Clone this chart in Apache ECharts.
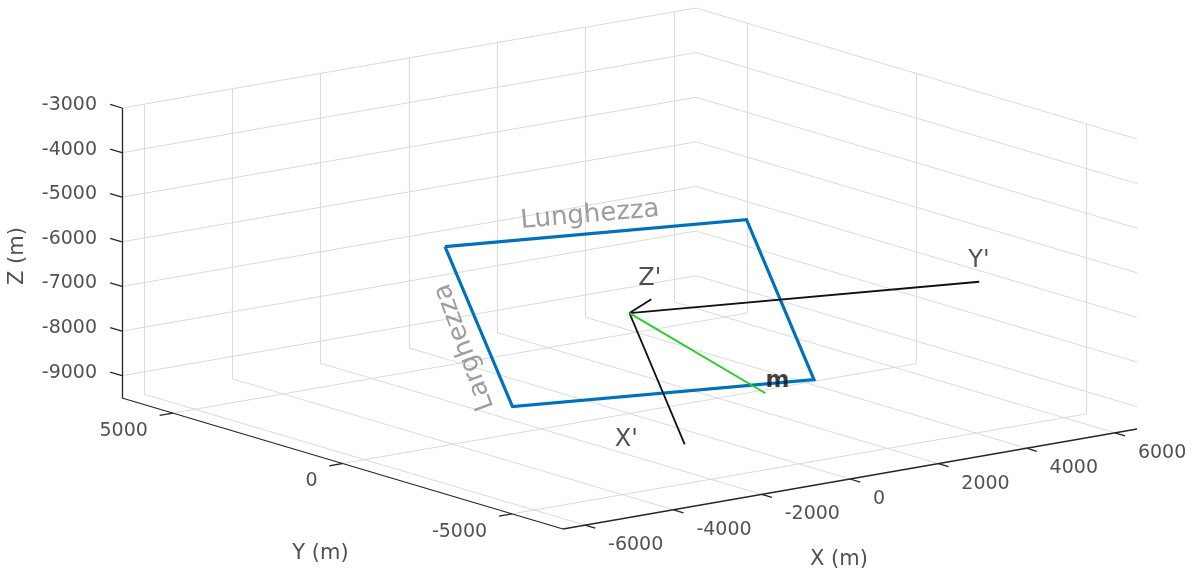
<!DOCTYPE html>
<html><head><meta charset="utf-8">
<script src="https://cdn.jsdelivr.net/npm/echarts@6/dist/echarts.min.js"></script>
<style>html,body{margin:0;padding:0;background:#fff}#c{width:1198px;height:574px}</style>
</head><body><div id="c"></div>
<script>
// ---- Data (metres) ----
const xLim = [-6500, 6500];
const yLim = [-6500, 6500];
const zLim = [-9500, -3000];
const xTicks = [-6000, -4000, -2000, 0, 2000, 4000, 6000];
const yTicks = [-5000, 0, 5000];
const zTicks = [-9000, -8000, -7000, -6000, -5000, -4000, -3000];
const axisNames = ['X (m)', 'Y (m)', 'Z (m)'];
// fault plane corners: top-left, top-right, bottom-right, bottom-left
const faultCorners = [[-2350, 2380, -5890], [3250, 780, -5890], [2350, -2380, -8610], [-3250, -780, -8610]];
// local reference frame
const frameOrigin = [0, 0, -7250];
const xPrimeTip = [-740, -2590, -9480];
const yPrimeTip = [6500, -1850, -7250];
const zPrimeTip = [-90, -760, -6750];
const mTip = [1330, -2275, -8760];
const frameNames = ["X'", "Y'", "Z'", 'm'];
const planeNames = ['Lunghezza', 'Larghezza'];
const lunghezzaAnchor = [585, 1925, -5590];
const larghezzaAnchor = [-3315, 550, -7565];

// ---- View (orthographic projection of the plot box) ----
const P0 = [563, 529];          // screen point of (xmin, ymin, zmin)
const EX = [574, -100], EY = [-441, -131], EZ = [0, -290];
function proj(p) {
  const u = (p[0] - xLim[0]) / (xLim[1] - xLim[0]);
  const v = (p[1] - yLim[0]) / (yLim[1] - yLim[0]);
  const w = (p[2] - zLim[0]) / (zLim[1] - zLim[0]);
  return [P0[0] + u * EX[0] + v * EY[0] + w * EZ[0], P0[1] + u * EX[1] + v * EY[1] + w * EZ[1]];
}
const FONT = 'DejaVu Sans';
const AX = '#262626';
const GRID = '#dadada';
function seg(a, b) { return { coords: [proj(a), proj(b)] }; }

// grid lines on back walls and floor
const gridSegs = [];
xTicks.forEach(x => gridSegs.push(seg([x, yLim[1], zLim[0]], [x, yLim[1], zLim[1]])));
zTicks.forEach(z => gridSegs.push(seg([xLim[0], yLim[1], z], [xLim[1], yLim[1], z])));
yTicks.forEach(y => gridSegs.push(seg([xLim[1], y, zLim[0]], [xLim[1], y, zLim[1]])));
zTicks.forEach(z => gridSegs.push(seg([xLim[1], yLim[0], z], [xLim[1], yLim[1], z])));
xTicks.forEach(x => gridSegs.push(seg([x, yLim[0], zLim[0]], [x, yLim[1], zLim[0]])));
yTicks.forEach(y => gridSegs.push(seg([xLim[0], y, zLim[0]], [xLim[1], y, zLim[0]])));

// axis lines and ticks
const axisSegs = [
  seg([xLim[0], yLim[0], zLim[0]], [xLim[1], yLim[0], zLim[0]]),
  seg([xLim[0], yLim[0], zLim[0]], [xLim[0], yLim[1], zLim[0]]),
  seg([xLim[0], yLim[1], zLim[0]], [xLim[0], yLim[1], zLim[1]])
];
const TL = 300;
xTicks.forEach(x => axisSegs.push(seg([x, yLim[0], zLim[0]], [x, yLim[0] - TL, zLim[0]])));
yTicks.forEach(y => axisSegs.push(seg([xLim[0], y, zLim[0]], [xLim[0] - TL, y, zLim[0]])));
zTicks.forEach(z => axisSegs.push(seg([xLim[0], yLim[1], z], [xLim[0], yLim[1] + 350, z])));

function textSeries(items, lab) {
  return {
    type: 'scatter', symbol: 'circle', symbolSize: 1, silent: true, z: 10,
    itemStyle: { color: 'rgba(0,0,0,0)' },
    data: items.map(it => ({ value: proj(it.p), name: it.t, label: it.label || {} })),
    label: Object.assign({ show: true, position: 'inside', formatter: '{b}', color: AX, fontFamily: FONT, fontSize: 19, verticalAlign: 'middle' }, lab)
  };
}

const option = {
  animation: false,
  grid: { left: 0, right: 0, top: 0, bottom: 0 },
  xAxis: { type: 'value', min: 0, max: 1198, show: false },
  yAxis: { type: 'value', min: 0, max: 574, inverse: true, show: false },
  series: [
    { type: 'lines', coordinateSystem: 'cartesian2d', silent: true, z: 1, data: gridSegs,
      lineStyle: { color: GRID, width: 1, opacity: 1 } },
    { type: 'lines', coordinateSystem: 'cartesian2d', silent: true, z: 2, data: axisSegs,
      lineStyle: { color: AX, width: 1.3, opacity: 1 } },
    { type: 'lines', coordinateSystem: 'cartesian2d', polyline: true, silent: true, z: 3,
      data: [{ coords: faultCorners.concat([faultCorners[0]]).map(proj) }],
      lineStyle: { color: '#0072BD', width: 3.2, opacity: 1, join: 'miter' } },
    { type: 'lines', coordinateSystem: 'cartesian2d', silent: true, z: 4,
      data: [seg(frameOrigin, xPrimeTip), seg(frameOrigin, yPrimeTip), seg(frameOrigin, zPrimeTip)],
      lineStyle: { color: '#111', width: 1.8, opacity: 1 } },
    { type: 'lines', coordinateSystem: 'cartesian2d', silent: true, z: 4,
      data: [seg(frameOrigin, mTip)],
      lineStyle: { color: '#22d022', width: 1.8, opacity: 1 } },
    textSeries(xTicks.map(t => ({ p: [t, yLim[0], zLim[0]], t: String(t) })), { align: 'left', offset: [23, 20] }),
    textSeries(yTicks.map(t => ({ p: [xLim[0], t, zLim[0]], t: String(t) })), { align: 'right', offset: [-25, 18] }),
    textSeries(zTicks.map(t => ({ p: [xLim[0], yLim[1], t], t: String(t) })), { align: 'right', offset: [-25, -3] }),
    textSeries([{ p: [0, yLim[0], zLim[0]], t: axisNames[0] }], { align: 'center', offset: [-11, 81], fontSize: 21 }),
    textSeries([{ p: [xLim[0], 0, zLim[0]], t: axisNames[1] }], { align: 'center', offset: [-22, 90], fontSize: 21 }),
    textSeries([{ p: [xLim[0], yLim[1], (zLim[0] + zLim[1]) / 2], t: axisNames[2] }], { align: 'center', offset: [-3, -104], fontSize: 21, rotate: 90 }),
    textSeries([
      { p: xPrimeTip, t: frameNames[0], label: { offset: [-70, -5] } },
      { p: yPrimeTip, t: frameNames[1], label: { offset: [-11, -21] } },
      { p: zPrimeTip, t: frameNames[2], label: { offset: [-13, -20] } },
      { p: mTip, t: frameNames[3], label: { offset: [0, -12], fontWeight: 'bold', fontSize: 23, color: '#111' } }
    ], { align: 'left', fontSize: 24 }),
    textSeries([
      { p: lunghezzaAnchor, t: planeNames[0], label: { rotate: 5 } },
      { p: larghezzaAnchor, t: planeNames[1], label: { rotate: 110 } }
    ], { align: 'center', fontSize: 26, color: '#858585' })
  ]
};
const chart = echarts.init(document.getElementById('c'));
chart.setOption(option);
</script></body></html>
